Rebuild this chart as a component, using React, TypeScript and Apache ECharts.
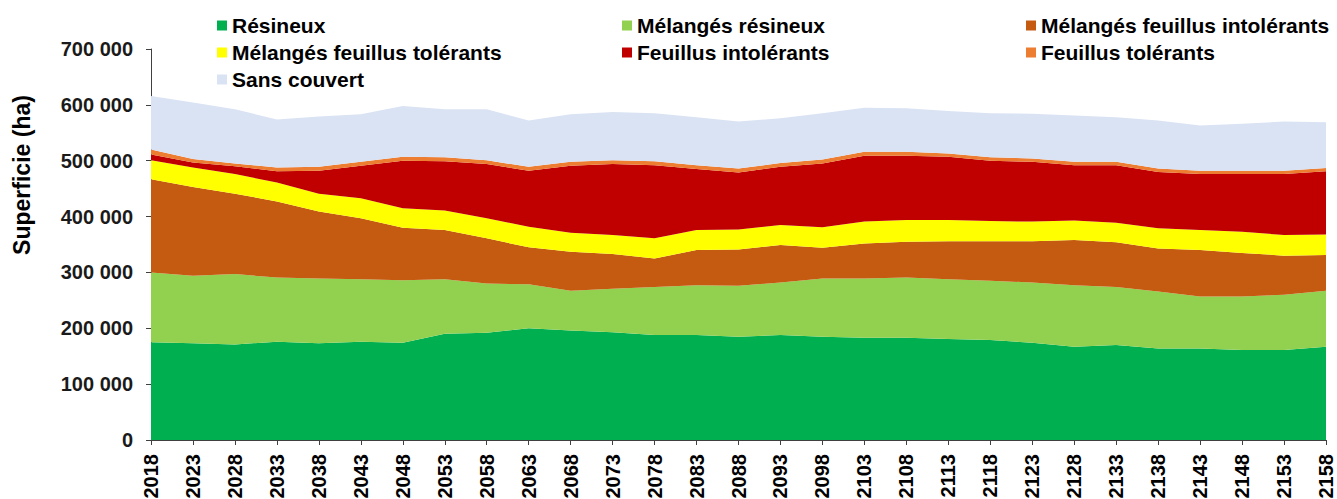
import React, { useEffect, useRef } from "react";
import * as echarts from "echarts";

const years: string[] = [
  "2018","2023","2028","2033","2038","2043","2048","2053","2058","2063",
  "2068","2073","2078","2083","2088","2093","2098","2103","2108","2113",
  "2118","2123","2128","2133","2138","2143","2148","2153","2158",
];

// values in thousands of hectares
const resineux = [175,173,171,176,173,176,174,190,192,200,196,193,188,188,185,188,185,183,183,181,179,174,167,170,164,164,161,161,167];
const melangesResineux = [125,121,126,115,116,112,112,98,88,79,71,78,86,89,91,94,104,106,108,107,106,108,110,104,102,93,96,99,100];
const melangesFeuillusIntolerants = [167,159,144,136,120,109,94,88,81,66,70,62,51,63,65,67,55,63,64,68,71,74,81,80,77,83,78,70,64];
const melangesFeuillusTolerants = [34,35,35,34,32,36,35,35,36,37,34,34,36,36,36,36,37,39,39,38,36,35,35,35,36,36,38,37,37];
const feuillusIntolerants = [10,9,14,20,41,58,85,88,97,100,120,127,131,109,102,104,114,118,115,113,108,107,99,103,101,100,103,109,113];
const feuillusTolerants = [9,6,5,7,7,7,7,7,7,7,7,7,7,7,7,7,7,7,7,6,6,6,6,6,6,6,6,6,6];
const sansCouvert = [96,101,97,86,90,85,91,86,91,83,85,86,86,86,84,80,83,79,78,76,79,80,83,80,86,81,84,88,82];

const seriesDefs = [
  { name: "Résineux", data: resineux, color: "#00B050" },
  { name: "Mélangés résineux", data: melangesResineux, color: "#92D050" },
  { name: "Mélangés feuillus intolérants", data: melangesFeuillusIntolerants, color: "#C55A11" },
  { name: "Mélangés feuillus tolérants", data: melangesFeuillusTolerants, color: "#FFFF00" },
  { name: "Feuillus intolérants", data: feuillusIntolerants, color: "#C00000" },
  { name: "Feuillus tolérants", data: feuillusTolerants, color: "#ED7D31" },
  { name: "Sans couvert", data: sansCouvert, color: "#DAE3F3" },
];

const FONT = "'Liberation Sans', Arial, sans-serif";

const fmt = (v: number) => String(v).replace(/\B(?=(\d{3})+(?!\d))/g, " ");

export default function App() {
  const ref = useRef<HTMLDivElement>(null);
  useEffect(() => {
    if (!ref.current) return;
    const chart = echarts.init(ref.current, undefined, { renderer: "svg" });
    const legendCommon = {
      orient: "vertical" as const,
      top: 10,
      itemWidth: 10,
      itemHeight: 10,
      itemGap: 6,
      icon: "rect",
      textStyle: {
        fontFamily: FONT,
        fontSize: 21,
        lineHeight: 20,
        fontWeight: "bold" as const,
        color: "#000",
        padding: [0, 0, 0, 0],
      },
    };
    chart.setOption({
      animation: false,
      color: seriesDefs.map((s) => s.color),
      legend: [
        { ...legendCommon, left: 212, data: ["Résineux", "Mélangés feuillus tolérants", "Sans couvert"] },
        { ...legendCommon, left: 617, data: ["Mélangés résineux", "Feuillus intolérants"] },
        { ...legendCommon, left: 1021, data: ["Mélangés feuillus intolérants", "Feuillus tolérants"] },
      ],
      grid: { left: 151, right: 11, top: 49, bottom: 59, containLabel: false, outerBoundsMode: "none" },
      graphic: [
        {
          type: "text",
          x: 22,
          y: 175,
          rotation: Math.PI / 2,
          style: {
            text: "Superficie (ha)",
            fontFamily: FONT,
            fontSize: 23,
            fontWeight: "bold",
            fill: "#000",
            align: "center",
            verticalAlign: "middle",
          },
        },
      ],
      xAxis: {
        type: "category",
        data: years,
        boundaryGap: false,
        axisLine: { lineStyle: { color: "#404040", width: 1 } },
        axisTick: { show: true, alignWithLabel: true, length: 5, lineStyle: { color: "#404040" } },
        axisLabel: {
          rotate: 90,
          interval: 0,
          margin: 14,
          fontFamily: FONT,
          fontSize: 20,
          fontWeight: "bold",
          color: "#000",
        },
        splitLine: { show: false },
      },
      yAxis: {
        type: "value",
        min: 0,
        max: 700000,
        interval: 100000,
        axisLine: { show: true, lineStyle: { color: "#404040", width: 1 } },
        axisTick: { show: true, length: 5, lineStyle: { color: "#404040" } },
        axisLabel: {
          margin: 18,
          fontFamily: FONT,
          fontSize: 20,
          fontWeight: "bold",
          color: "#1a1a1a",
          formatter: (v: number) => fmt(v),
        },
        splitLine: { show: false },
      },
      series: seriesDefs.map((s) => ({
        name: s.name,
        type: "line",
        stack: "total",
        data: s.data.map((v) => v * 1000),
        symbol: "none",
        lineStyle: { width: 0 },
        areaStyle: { color: s.color, opacity: 1 },
        itemStyle: { color: s.color },
        emphasis: { disabled: true },
      })),
    });
    return () => chart.dispose();
  }, []);
  return (
    <div
      ref={ref}
      style={{ position: "fixed", left: 0, top: 0, width: 1337, height: 499, background: "#fff" }}
    />
  );
}
